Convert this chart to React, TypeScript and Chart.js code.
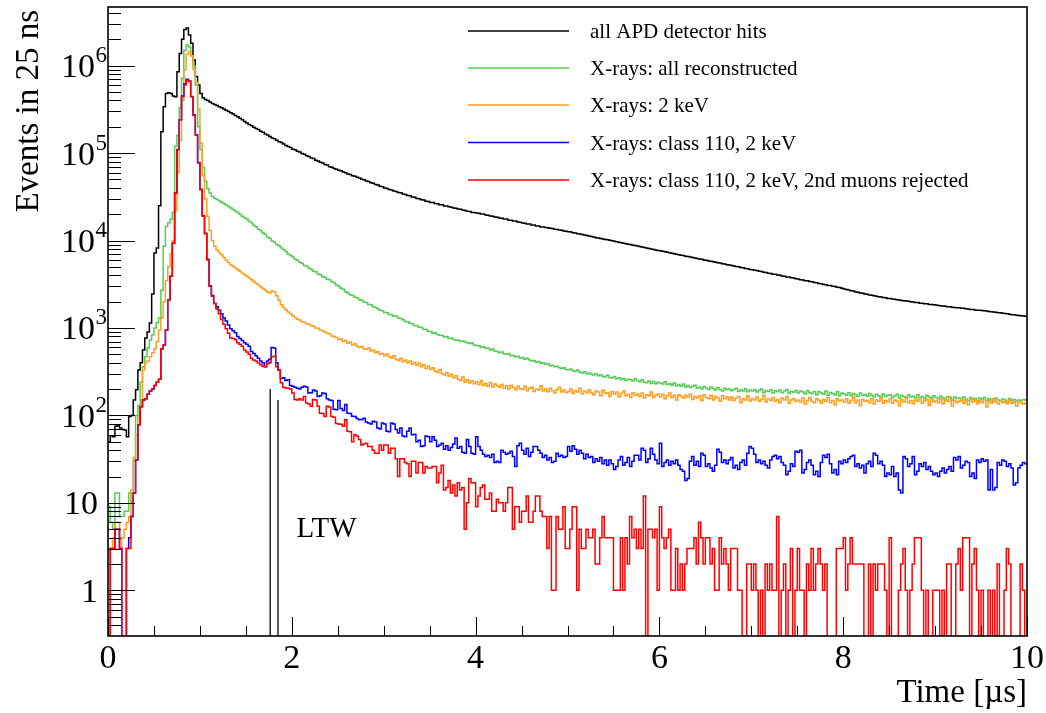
import React, { useEffect, useRef } from 'react';
import { Chart, registerables } from 'chart.js';

Chart.register(...registerables);

// ---------- data (25 ns bins, 0 - 10 us) ----------
const BIN_WIDTH_US = 0.025;
const X_MIN = 0;
const X_MAX = 10;
const Y_MIN = 0.3035;
const Y_MAX = 4.69e6;

const allHits = [
  50, 58, 57, 75, 76, 72, 69, 68, 57, 97,
  100, 150, 197, 330, 400, 560, 770, 900, 1140, 2440,
  7200, 8200, 25000, 176000, 340000, 480000, 490000, 480000, 450000, 440000,
  850000, 1380000, 2000000, 2600000, 2700000, 2240000, 1800000, 1160000, 750000, 600000,
  480000, 430000, 410000, 400000, 385000, 370000, 360000, 350000, 340000, 330000,
  320000, 310000, 300000, 290000, 280000, 270000, 260000, 250000, 240000, 230000,
  221000, 212000, 206000, 197000, 191000, 186000, 178000, 173000, 165000, 161000,
  155000, 149000, 146000, 140000, 135000, 132000, 127000, 122000, 119000, 116000,
  111000, 109000, 105000, 103000, 99000, 97000, 93000, 91500, 88000, 86500,
  83000, 81500, 78500, 77000, 74000, 73000, 70000, 69000, 66500, 65500,
  63500, 62800, 60800, 59800, 57700, 56900, 55200, 54300, 52800, 51800,
  50300, 49600, 48000, 47300, 45800, 45200, 43800, 43200, 41800, 41200,
  39800, 39400, 38300, 37900, 36800, 36500, 35400, 35100, 34000, 33700,
  32700, 32500, 31500, 31300, 30300, 30100, 29200, 29000, 28200, 28000,
  27300, 27200, 26500, 26400, 25700, 25600, 24900, 24800, 24300, 24100,
  23500, 23400, 22900, 22800, 22300, 22100, 21600, 21500, 21000, 20900,
  20700, 20500, 20100, 20100, 19600, 19500, 19100, 19000, 18600, 18500,
  18100, 18000, 17600, 17600, 17100, 17100, 16700, 16700, 16300, 16200,
  15900, 15800, 15500, 15500, 15100, 15100, 14700, 14700, 14300, 14300,
  14100, 14000, 13800, 13700, 13500, 13400, 13200, 13100, 12900, 12800,
  12600, 12500, 12300, 12200, 12000, 11900, 11700, 11600, 11400, 11300,
  11100, 11000, 10800, 10700, 10550, 10450, 10300, 10200, 10050, 9950,
  9800, 9700, 9550, 9450, 9300, 9200, 9100, 9000, 8850, 8750,
  8650, 8550, 8430, 8330, 8220, 8120, 8020, 7920, 7820, 7720,
  7650, 7520, 7450, 7330, 7270, 7150, 7080, 6970, 6900, 6800,
  6740, 6630, 6570, 6470, 6410, 6310, 6250, 6150, 6100, 6000,
  5950, 5850, 5800, 5710, 5660, 5570, 5530, 5430, 5390, 5300,
  5260, 5170, 5130, 5040, 5000, 4920, 4880, 4800, 4770, 4680,
  4650, 4570, 4540, 4450, 4420, 4340, 4320, 4240, 4210, 4130,
  4110, 4030, 4010, 3930, 3910, 3840, 3820, 3750, 3720, 3650,
  3630, 3570, 3540, 3480, 3460, 3400, 3370, 3310, 3290, 3230,
  3210, 3150, 3130, 3070, 3060, 3000, 2980, 2920, 2910, 2850,
  2800, 2750, 2720, 2660, 2640, 2580, 2560, 2510, 2490, 2450,
  2430, 2390, 2370, 2330, 2310, 2280, 2260, 2230, 2220, 2180,
  2170, 2140, 2130, 2100, 2090, 2060, 2050, 2030, 2020, 1990,
  1980, 1960, 1950, 1920, 1920, 1890, 1890, 1860, 1860, 1840,
  1830, 1810, 1800, 1780, 1770, 1750, 1750, 1730, 1720, 1700,
  1700, 1680, 1680, 1660, 1650, 1630, 1630, 1610, 1600, 1590,
  1580, 1570, 1560, 1540, 1530, 1520, 1510, 1490, 1490, 1470,
  1460, 1450, 1440, 1420, 1420, 1400, 1390, 1380, 1370, 1360,
];

const xraysAll = [
  9, 6, 5, 13, 13, 7, 7, 8, 8, 13,
  10, 30, 100, 130, 240, 360, 470, 590, 730, 830,
  1000, 1150, 1300, 2700, 8600, 14500, 16000, 17500, 21000, 120000,
  160000, 330000, 720000, 1500000, 1720000, 1650000, 1300000, 1000000, 600000, 200000,
  110000, 69000, 48000, 39000, 35000, 32000, 30500, 29500, 28500, 27500,
  26500, 25500, 24500, 23500, 22600, 21800, 21000, 20000, 19000, 18200,
  17600, 16600, 16000, 15000, 14400, 13500, 13000, 12200, 11800, 11000,
  10600, 9900, 9600, 9000, 8700, 8200, 7900, 7500, 7000, 6800,
  6500, 6100, 5950, 5650, 5500, 5200, 5100, 4850, 4700, 4450,
  4400, 4150, 4100, 3850, 3800, 3600, 3560, 3380, 3300, 3100,
  3000, 2850, 2780, 2600, 2520, 2400, 2360, 2240, 2220, 2110,
  2080, 1980, 1960, 1860, 1840, 1750, 1720, 1660, 1590, 1570,
  1500, 1490, 1430, 1420, 1360, 1370, 1300, 1280, 1240, 1190,
  1180, 1130, 1120, 1070, 1060, 1020, 1010, 970, 960, 920,
  910, 870, 880, 840, 825, 820, 790, 800, 760, 770,
  740, 725, 730, 700, 712, 690, 680, 665, 675, 640,
  630, 625, 600, 610, 585, 590, 560, 575, 545, 540,
  520, 530, 505, 500, 510, 480, 485, 470, 475, 455,
  460, 440, 450, 430, 420, 425, 405, 415, 395, 400,
  385, 390, 370, 375, 360, 365, 350, 345, 352, 335,
  333, 340, 325, 318, 330, 312, 305, 316, 300, 305,
  296, 290, 300, 285, 292, 280, 275, 288, 272, 268,
  278, 262, 270, 258, 265, 250, 260, 255, 248, 262,
  250, 242, 255, 240, 236, 248, 232, 245, 230, 240,
  235, 228, 242, 225, 230, 222, 235, 218, 226, 215,
  228, 212, 220, 208, 216, 222, 205, 212, 200, 214,
  206, 198, 212, 202, 195, 208, 198, 190, 205, 196,
  200, 192, 198, 205, 188, 196, 190, 202, 186, 195,
  190, 198, 185, 193, 200, 182, 192, 188, 196, 180,
  192, 186, 195, 182, 190, 198, 178, 188, 184, 193,
  180, 190, 185, 176, 192, 182, 178, 188, 172, 186,
  180, 175, 190, 170, 183, 178, 172, 186, 168, 180,
  176, 170, 182, 168, 178, 172, 165, 180, 170, 174,
  166, 178, 170, 162, 175, 168, 160, 176, 165, 170,
  172, 160, 168, 175, 158, 170, 164, 160, 172, 162,
  166, 158, 172, 160, 165, 155, 170, 162, 158, 168,
  160, 155, 166, 158, 152, 164, 160, 150, 162, 156,
  158, 150, 162, 154, 148, 160, 152, 156, 146, 158,
  152, 160, 148, 155, 150, 145, 158, 150, 146, 154,
  150, 144, 156, 148, 152, 146, 150, 148, 152, 150,
];

const xrays2keV = [
  3, 3, 4, 6, 6, 3, 4, 5, 6, 7,
  14, 33, 60, 100, 130, 330, 400, 420, 470, 520,
  580, 700, 950, 1300, 2000, 3500, 5000, 7000, 10000, 22000,
  60000, 140000, 400000, 900000, 1350000, 1450000, 1300000, 900000, 650000, 320000,
  130000, 55000, 30000, 19000, 13000, 10000, 8600, 7800, 7300, 6900,
  6400, 6000, 5600, 5300, 5050, 4850, 4650, 4450, 4250, 4050,
  3900, 3720, 3560, 3400, 3260, 3120, 2960, 2820, 2700, 2580,
  2520, 2640, 2600, 2330, 2080, 1840, 1710, 1620, 1520, 1450,
  1380, 1320, 1260, 1230, 1180, 1170, 1120, 1100, 1060, 1050,
  1000, 990, 950, 930, 900, 870, 860, 810, 800, 780,
  740, 750, 700, 720, 670, 690, 640, 660, 620, 600,
  615, 580, 570, 590, 545, 560, 520, 535, 500, 510,
  480, 505, 470, 455, 480, 440, 425, 450, 410, 430,
  400, 420, 385, 405, 375, 395, 360, 380, 345, 365,
  335, 350, 320, 310, 335, 300, 290, 310, 280, 295,
  270, 285, 260, 250, 275, 240, 255, 235, 248, 230,
  242, 225, 250, 220, 232, 215, 238, 212, 228, 218,
  210, 225, 205, 218, 200, 222, 208, 196, 215, 202,
  198, 215, 192, 205, 210, 188, 200, 195, 218, 190,
  200, 186, 205, 192, 180, 198, 210, 185, 195, 182,
  188, 200, 178, 192, 185, 205, 176, 190, 182, 196,
  180, 172, 190, 185, 168, 195, 178, 182, 165, 188,
  175, 185, 162, 178, 190, 168, 175, 160, 182, 170,
  176, 165, 180, 158, 172, 168, 185, 160, 170, 176,
  162, 175, 155, 168, 180, 160, 170, 150, 172, 165,
  158, 170, 162, 175, 152, 165, 158, 168, 148, 172,
  160, 155, 170, 150, 165, 158, 145, 168, 155, 162,
  150, 162, 148, 158, 165, 140, 155, 150, 168, 146,
  156, 150, 162, 145, 152, 170, 142, 155, 148, 160,
  145, 152, 140, 158, 150, 165, 138, 150, 155, 144,
  150, 142, 158, 135, 148, 160, 145, 140, 155, 148,
  138, 152, 145, 160, 140, 148, 132, 155, 146, 150,
  142, 155, 138, 148, 162, 140, 150, 130, 152, 145,
  148, 140, 155, 135, 150, 145, 160, 138, 148, 142,
  155, 138, 150, 145, 128, 152, 142, 158, 140, 148,
  136, 150, 145, 160, 138, 146, 152, 130, 155, 142,
  148, 140, 155, 135, 150, 145, 162, 128, 148, 140,
  145, 152, 138, 148, 132, 155, 142, 150, 136, 146,
  140, 150, 125, 145, 138, 155, 142, 135, 148, 140,
  144, 136, 150, 138, 142, 128, 146, 140, 135, 139,
];

const class110 = [
  0, 3, 3, 5, 5, 3, 0, 0, 3, 4,
  7, 13, 31, 78, 126, 150, 155, 175, 190, 200,
  220, 240, 260, 580, 640, 950, 2100, 3900, 9300, 35000,
  110000, 240000, 450000, 620000, 700000, 670000, 445000, 275000, 162000, 78000,
  38500, 19200, 12100, 6100, 3050, 2350, 1900, 1750, 1600, 1450,
  1300, 1200, 1080, 980, 930, 880, 800, 760, 720, 680,
  650, 620, 540, 510, 480, 450, 420, 400, 360, 420,
  440, 600, 590, 400, 330, 265, 270, 250, 255, 220,
  215, 210, 205, 200, 210, 215, 212, 180, 182, 195,
  190, 165, 168, 180, 178, 155, 150, 148, 118, 116,
  148, 120, 114, 133, 106, 105, 98, 97, 92, 89,
  90, 93, 84, 82, 80, 86, 84, 72, 70, 82,
  80, 66, 65, 82, 80, 69, 63, 72, 58, 57,
  66, 72, 60, 61, 50, 52, 44, 45, 58, 57,
  50, 57, 52, 44, 46, 48, 41, 45, 40, 43,
  47, 55, 42, 44, 38, 37, 53, 44, 37, 36,
  57, 44, 40, 36, 34, 35, 33, 36, 29, 30,
  29, 40, 38, 36, 37, 39, 34, 26, 45, 48,
  40, 36, 42, 34, 38, 44, 44, 40, 37, 33,
  35, 31, 33, 29, 30, 37, 34, 35, 33, 34,
  44, 39, 45, 41, 36, 40, 37, 32, 36, 33,
  34, 29, 32, 30, 33, 28, 31, 27, 31, 28,
  24, 26, 31, 34, 27, 29, 33, 26, 30, 35,
  35, 31, 42, 40, 29, 32, 42, 36, 31, 28,
  48, 26, 29, 31, 27, 30, 28, 31, 27, 24,
  23, 18, 19, 30, 34, 27, 30, 26, 37, 35,
  26, 28, 25, 23, 27, 41, 38, 29, 31, 28,
  31, 33, 25, 27, 24, 29, 31, 27, 37, 44,
  42, 36, 29, 31, 28, 30, 27, 25, 31, 34,
  35, 32, 34, 29, 27, 21, 23, 28, 26, 39,
  38, 40, 22, 24, 29, 31, 27, 21, 23, 20,
  29, 35, 33, 36, 28, 22, 24, 21, 30, 28,
  31, 29, 32, 34, 35, 26, 28, 25, 27, 22,
  28, 30, 26, 37, 35, 28, 30, 27, 20, 22,
  21, 26, 20, 22, 14, 13, 34, 32, 26, 28,
  34, 21, 23, 28, 26, 29, 24, 26, 23, 21,
  22, 20, 23, 25, 22, 24, 26, 23, 33, 31,
  34, 25, 27, 30, 29, 20, 22, 19, 31, 29,
  32, 30, 31, 14, 24, 14, 15, 29, 27, 31,
  30, 26, 28, 25, 16, 17, 25, 27, 29, 28,
];

const class110Rejected = [
  0, 3, 3, 5, 5, 3, 0, 0, 3, 3,
  7, 13, 31, 78, 126, 150, 155, 175, 190, 200,
  220, 240, 260, 580, 640, 950, 2100, 3900, 9300, 35000,
  110000, 240000, 440000, 600000, 680000, 660000, 440000, 270000, 160000, 77000,
  38000, 19000, 12000, 6000, 3000, 2300, 1900, 1650, 1450, 1250,
  1100, 980, 870, 770, 760, 740, 680, 650, 620, 560,
  530, 500, 450, 430, 420, 397, 380, 365, 360, 390,
  400, 470, 475, 360, 330, 236, 210, 206, 205, 200,
  181, 152, 150, 155, 150, 165, 139, 135, 127, 152,
  150, 127, 106, 105, 97, 127, 125, 97, 95, 81,
  80, 79, 75, 89, 66, 65, 50, 60, 58, 53,
  46, 47, 48, 44, 44, 40, 37, 37, 46, 40,
  46, 46, 37, 42, 42, 32, 20, 32, 32, 29,
  28, 20, 30, 30, 22, 29, 29, 22, 26, 25,
  25, 26, 26, 17, 22, 27, 14, 15, 18, 13,
  16, 12, 17, 14, 15, 5, 10, 19, 17, 17,
  9, 12, 15, 16, 11, 11, 13, 8, 8, 11,
  10, 10, 8, 10, 15, 15, 5, 9, 9, 6,
  8, 8, 12, 6, 6, 8, 12, 12, 8, 7,
  7, 3, 7, 1, 1, 7, 5, 5, 9, 3,
  3, 5, 9, 9, 1, 5, 3, 3, 5, 4,
  4, 5, 2, 2, 4, 7, 4, 4, 4, 4,
  1, 1, 1, 4, 1, 4, 2, 7, 4, 5,
  3, 5, 3, 12, 0, 5, 5, 4, 5, 1,
  9, 4, 3, 4, 5, 1, 1, 3, 1, 2,
  1, 2, 3, 3, 3, 4, 2, 6, 4, 2,
  4, 4, 2, 3, 1, 1, 4, 2, 3, 2,
  1, 3, 3, 3, 1, 1, 0, 0, 2, 2,
  1, 2, 1, 0, 1, 0, 2, 1, 2, 1,
  1, 7, 0, 1, 2, 0, 1, 3, 0, 1,
  3, 1, 1, 0, 2, 1, 3, 1, 2, 3,
  2, 1, 2, 0, 0, 0, 0, 3, 3, 3,
  4, 1, 2, 4, 2, 2, 2, 2, 2, 0,
  0, 2, 0, 2, 1, 2, 2, 2, 1, 0,
  4, 0, 0, 0, 1, 2, 3, 1, 0, 1,
  2, 4, 4, 4, 1, 0, 1, 0, 0, 1,
  1, 1, 0, 1, 0, 2, 2, 0, 0, 2,
  3, 1, 4, 4, 4, 0, 2, 3, 1, 0,
  1, 0, 0, 1, 0, 1, 0, 2, 0, 0,
  1, 3, 2, 0, 0, 0, 0, 2, 1, 0,
];

// LTW markers (time in us, height in events)
const ltwTimes = [1.765, 1.85];
const ltwHeights = [200, 150];
const ltwLabel = 'LTW';
const ltwLabelPos = [2.05, 4.1];

const xTickValues = [0, 2, 4, 6, 8, 10];
const xTickLabels = ['0', '2', '4', '6', '8', '10'];
const yDecadeExponents = [0, 1, 2, 3, 4, 5, 6];

const xTitle = 'Time [\u00b5s]';
const yTitle = 'Events in 25 ns';

const legendLabels = [
  'all APD detector hits',
  'X-rays: all reconstructed',
  'X-rays: 2 keV',
  'X-rays: class 110, 2 keV',
  'X-rays: class 110, 2 keV, 2nd muons rejected',
];
const seriesColors = ['#000000', '#55cc55', '#ff9d1d', '#0000ff', '#ff0000'];

// ---------- helpers ----------
const SERIF = "'Liberation Serif', 'Times New Roman', Times, serif";

function toSteps(values: number[]) {
  const pts = values.map((v, i) => ({ x: i * BIN_WIDTH_US, y: v > 0 ? v : 0.02 }));
  const last = values[values.length - 1];
  pts.push({ x: values.length * BIN_WIDTH_US, y: last > 0 ? last : 0.02 });
  return pts;
}

function histDataset(values: number[], color: string) {
  return {
    data: toSteps(values),
    borderColor: color,
    backgroundColor: color,
    borderWidth: 1.5,
    pointRadius: 0,
    stepped: true as const,
    tension: 0,
    fill: false,
  };
}

const decorPlugin = {
  id: 'rootDecor',
  afterDraw(chart: any) {
    const { ctx, chartArea: a, scales } = chart;
    const xs = scales.x;
    const ys = scales.y;
    ctx.save();

    // frame
    ctx.strokeStyle = '#000';
    ctx.lineWidth = 1.6;
    ctx.strokeRect(a.left, a.top, a.right - a.left, a.bottom - a.top);

    // ticks
    ctx.lineWidth = 1;
    ctx.beginPath();
    for (let k = 0; k <= 20; k++) {
      const v = k * 0.5;
      const px = Math.round(xs.getPixelForValue(v)) + 0.5;
      const len = k % 4 === 0 ? 19 : 10;
      ctx.moveTo(px, a.bottom);
      ctx.lineTo(px, a.bottom - len);
    }
    for (let e = -1; e <= 6; e++) {
      for (let m = 1; m <= 9; m++) {
        const v = m * Math.pow(10, e);
        if (v < Y_MIN || v > Y_MAX) continue;
        const py = Math.round(ys.getPixelForValue(v)) + 0.5;
        const len = m === 1 ? 27 : 13;
        ctx.moveTo(a.left, py);
        ctx.lineTo(a.left + len, py);
      }
    }
    ctx.stroke();

    ctx.fillStyle = '#000';
    ctx.textBaseline = 'alphabetic';

    // x tick labels
    ctx.font = `34px ${SERIF}`;
    ctx.textAlign = 'center';
    xTickValues.forEach((v, i) => {
      ctx.fillText(xTickLabels[i], xs.getPixelForValue(v), a.bottom + 32);
    });

    // y tick labels
    yDecadeExponents.forEach((e) => {
      const py = ys.getPixelForValue(Math.pow(10, e));
      const base = py + 11.5;
      if (e <= 1) {
        ctx.font = `34px ${SERIF}`;
        ctx.textAlign = 'right';
        ctx.fillText(e === 0 ? '1' : '10', a.left - 10, base);
      } else {
        ctx.font = `34px ${SERIF}`;
        ctx.textAlign = 'right';
        ctx.fillText('10', a.left - 13, base);
        ctx.font = `23px ${SERIF}`;
        ctx.textAlign = 'left';
        ctx.fillText(String(e), a.left - 12.5, base - 15);
      }
    });

    // axis titles
    ctx.font = `33px ${SERIF}`;
    ctx.textAlign = 'right';
    ctx.fillText(xTitle, a.right, 702);

    ctx.save();
    ctx.translate(38, 10);
    ctx.rotate(-Math.PI / 2);
    ctx.textAlign = 'right';
    ctx.fillText(yTitle, 0, 0);
    ctx.restore();

    // LTW label
    ctx.font = `29px ${SERIF}`;
    ctx.textAlign = 'left';
    ctx.fillText(ltwLabel, xs.getPixelForValue(ltwLabelPos[0]), ys.getPixelForValue(ltwLabelPos[1]));

    // legend
    const rows = [31, 68, 105, 142.5, 180];
    ctx.font = `21px ${SERIF}`;
    legendLabels.forEach((label, i) => {
      const y = rows[i];
      ctx.strokeStyle = seriesColors[i];
      ctx.lineWidth = 1.5;
      ctx.beginPath();
      ctx.moveTo(468, y);
      ctx.lineTo(569, y);
      ctx.stroke();
      ctx.fillStyle = '#000';
      ctx.textAlign = 'left';
      ctx.fillText(label, 590, y + 7);
    });

    ctx.restore();
  },
};

export default function App() {
  const ref = useRef<HTMLCanvasElement>(null);

  useEffect(() => {
    if (!ref.current) return;
    const series = [allHits, xraysAll, xrays2keV, class110, class110Rejected];
    const histSets = series.map((s, i) => histDataset(s, seriesColors[i])).reverse();
    const ltwSets = ltwTimes.map((t, i) => ({
      data: [
        { x: t, y: 0.02 },
        { x: t, y: ltwHeights[i] },
      ],
      borderColor: '#000',
      borderWidth: 1.3,
      pointRadius: 0,
      fill: false,
    }));

    const chart = new Chart(ref.current, {
      type: 'line',
      data: { datasets: [...histSets, ...ltwSets] as any },
      options: {
        animation: false,
        responsive: false,
        devicePixelRatio: 1,
        events: [],
        layout: { padding: { left: 108, top: 7, right: 19, bottom: 77 } },
        plugins: { legend: { display: false }, tooltip: { enabled: false } },
        scales: {
          x: { type: 'linear', min: X_MIN, max: X_MAX, display: false },
          y: { type: 'logarithmic', min: Y_MIN, max: Y_MAX, display: false },
        },
      },
      plugins: [decorPlugin],
    });
    return () => chart.destroy();
  }, []);

  return (
    <div style={{ position: 'fixed', left: 0, top: 0, width: 1046, height: 713, background: '#fff' }}>
      <canvas ref={ref} width={1046} height={713} style={{ display: 'block', width: 1046, height: 713 }} />
    </div>
  );
}
